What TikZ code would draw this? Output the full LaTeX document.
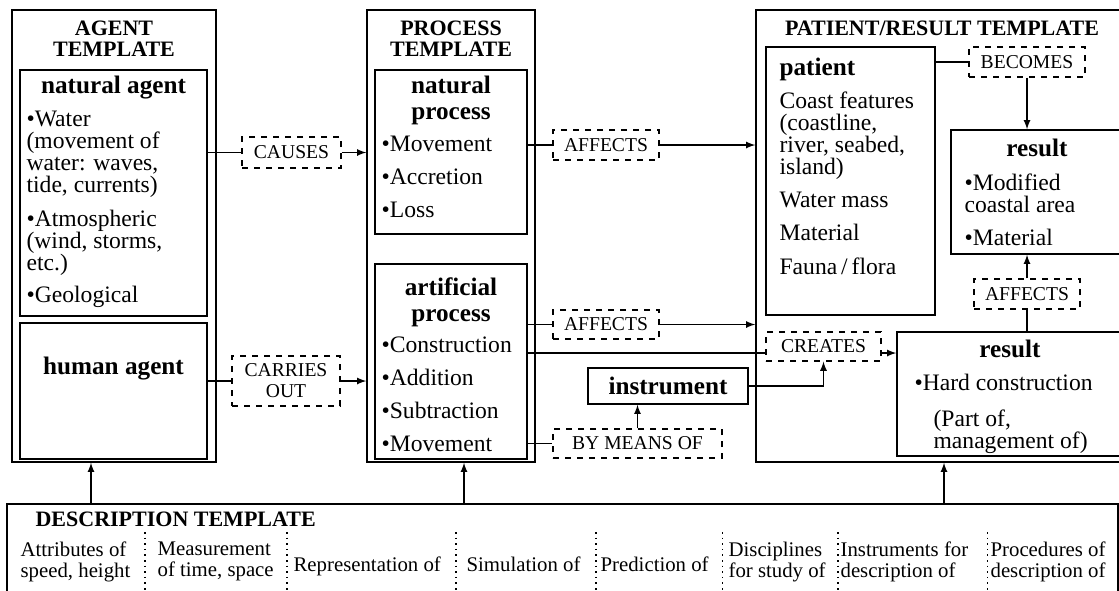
\documentclass[tikz,border=0pt]{standalone}
\usepackage{fontspec}
\setmainfont{Liberation Serif}
\usepackage{tikz}
\usetikzlibrary{arrows,positioning}
\usetikzlibrary{fit}

\newcommand{\ttlfnt}{\fontsize{11}{10.5}\selectfont\bfseries}
\newcommand{\subfnt}{\fontsize{12.6}{13}\selectfont\bfseries}
\newcommand{\txtfnt}{\fontsize{11.8}{11}\selectfont}
\newcommand{\relfnt}{\fontsize{9.8}{10.5}\selectfont}
\newcommand{\dscfnt}{\fontsize{10.4}{10.5}\selectfont}

\tikzset{
  box/.style={draw, inner sep=0pt, line width=0.7pt},
  relbox/.style={draw, dashed, inner sep=0pt, line width=0.6pt, font=\relfnt, align=center},
  ttl/.style={font=\ttlfnt, align=center, inner sep=0pt},
  subttl/.style={font=\subfnt, align=center, inner sep=0pt},
  txt/.style={font=\txtfnt, align=left, inner sep=0pt},
  dsc/.style={font=\dscfnt, align=left, inner sep=0pt},
}

\begin{document}
\begin{tikzpicture}[x=0.5pt, y=-0.5pt, >=latex, line width=0.6pt]

\useasboundingbox (0,0) rectangle (1119,590);

% agent template
\node(agent)[box, fit={(12,10) (216,462)}]{};
\node(agentttl)[ttl, anchor=north] at (114,20){AGENT\\TEMPLATE};
\node(natag)[box, fit={(20,70) (207,316)}]{};
\node(natagttl)[subttl, anchor=north] at (113.5,75){natural agent};
\node(natagtxt)[txt, anchor=north west] at (26,110){\textbullet Water\\(movement of\\water: waves,\\tide, currents)\\[6pt]\textbullet Atmospheric\\(wind, storms,\\etc.)\\[5pt]\textbullet Geological};
\node(human)[box, fit={(20,323) (207,459)}]{};
\node(humanttl)[subttl, anchor=north] at (113.5,356){human agent};

% process template
\node(proc)[box, fit={(367,10) (535,462)}]{};
\node(procttl)[ttl, anchor=north] at (451,20){PROCESS\\TEMPLATE};
\node(natproc)[box, fit={(375,70) (527,234)}]{};
\node(natprocttl)[subttl, anchor=north] at (451,75){natural\\process};
\node(natproctxt)[txt, anchor=north west] at (381,135){\textbullet Movement\\[5.5pt]\textbullet Accretion\\[5.5pt]\textbullet Loss};
\node(artproc)[box, fit={(375,264) (527,459)}]{};
\node(artprocttl)[subttl, anchor=north] at (451,277){artificial\\process};
\node(artproctxt)[txt, anchor=north west] at (381,336){\textbullet Construction\\[5.5pt]\textbullet Addition\\[5.5pt]\textbullet Subtraction\\[5.5pt]\textbullet Movement};

% patient / result template
\node(patres)[box, fit={(756,10) (1130,462)}]{};
\node(patresttl)[ttl, anchor=north] at (942,20){PATIENT/RESULT TEMPLATE};
\node(patient)[box, fit={(766,47) (935,315)}]{};
\node(patientttl)[subttl, anchor=north west] at (779,57){patient};
\node(patienttxt)[txt, anchor=north west] at (779,91){Coast features\\(coastline,\\river, seabed,\\island)\\[5.5pt]Water mass\\[5.5pt]Material\\[6pt]Fauna\,/\,flora};
\node(res1)[box, fit={(951,130) (1130,254)}]{};
\node(res1ttl)[subttl, anchor=north] at (1037,138){result};
\node(res1txt)[txt, anchor=north west] at (964,173){\textbullet Modified\\coastal area\\[5.5pt]\textbullet Material};
\node(res2)[box, fit={(897,332) (1130,456)}]{};
\node(res2ttl)[subttl, anchor=north] at (1010,339){result};
\node(res2txt)[txt, anchor=north west] at (914,374){\textbullet Hard construction};
\node(res2note)[txt, anchor=north west] at (933,409){(Part of,\\management of)};

% relations
\node(causes)[relbox, minimum width=49.5pt, minimum height=15.5pt] at (291.5,152.5){CAUSES};
\node(carries)[relbox, minimum width=54pt, minimum height=25pt] at (286,381){CARRIES\\OUT};
\node(aff1)[relbox, minimum width=53pt, minimum height=15pt] at (606,145){AFFECTS};
\node(aff2)[relbox, minimum width=53pt, minimum height=14.5pt] at (606,324.5){AFFECTS};
\node(creates)[relbox, minimum width=57.5pt, minimum height=14.5pt] at (823.5,346.5){CREATES};
\node(instr)[box, subttl, minimum width=80pt, minimum height=18pt] at (668,386){instrument};
\node(bymeans)[relbox, minimum width=84.5pt, minimum height=14.5pt] at (637.5,443.5){BY MEANS OF};
\node(becomes)[relbox, minimum width=58pt, minimum height=15pt] at (1027,62){BECOMES};
\node(aff3)[relbox, minimum width=53pt, minimum height=15pt] at (1027,294){AFFECTS};

\coordinate(cons) at (0,353);

\draw (natag.east |- causes.west) -- (causes.west);
\draw [->] (causes.east) -- (causes.east -| proc.west);
\draw (human.east |- carries.west) -- (carries.west);
\draw [->] (carries.east) -- (carries.east -| proc.west);
\draw (natproc.east |- aff1.west) -- (aff1.west);
\draw [->] (aff1.east) -- (aff1.east -| patres.west);
\draw (artproc.east |- aff2.west) -- (aff2.west);
\draw [->] (aff2.east) -- (aff2.east -| patres.west);
\draw (artproc.east |- cons) -- (cons -| creates.west);
\draw [->] (cons -| creates.east) -- (cons -| res2.west);
\draw [->] (instr.east) -| (creates.south);
\draw (artproc.east |- bymeans.west) -- (bymeans.west);
\draw [->] (bymeans.north) -- (bymeans.north |- instr.south);
\draw (patient.east |- becomes.west) -- (becomes.west);
\draw [->] (becomes.south) -- (becomes.south |- res1.north);
\draw [->] (aff3.north) -- (aff3.north |- res1.south);
\draw (res2.north -| aff3.south) -- (aff3.south);

% description template
\node(desc)[box, fit={(7,504) (1118,600)}]{};
\node(descttl)[ttl, font=\fontsize{11}{10.5}\selectfont\bfseries, anchor=north west] at (35,511){DESCRIPTION TEMPLATE};
\node(d1)[dsc, anchor=north west] at (20,541){Attributes of\\speed, height};
\node(d2)[dsc, anchor=north west] at (157,541){Measurement\\of time, space};
\node(d3)[dsc, anchor=north west] at (293,556){Representation of};
\node(d4)[dsc, anchor=north west] at (466,556){Simulation of};
\node(d5)[dsc, anchor=north west] at (600,556){Prediction of};
\node(d6)[dsc, anchor=north west] at (728,541){Disciplines\\for study of};
\node(d7)[dsc, anchor=north west] at (840,541){Instruments for\\description of};
\node(d8)[dsc, anchor=north west] at (990,541){Procedures of\\description of};
\foreach \sx in {145,287,456,596,722.5,838,987.5}
  \draw [dotted, line width=0.8pt] (\sx,532) -- (\sx,600);

\draw [->] (desc.north -| 91,0) -- (agent.south -| 91,0);
\draw [->] (desc.north -| 464,0) -- (proc.south -| 464,0);
\draw [->] (desc.north -| 944,0) -- (patres.south -| 944,0);

\end{tikzpicture}
\end{document}
